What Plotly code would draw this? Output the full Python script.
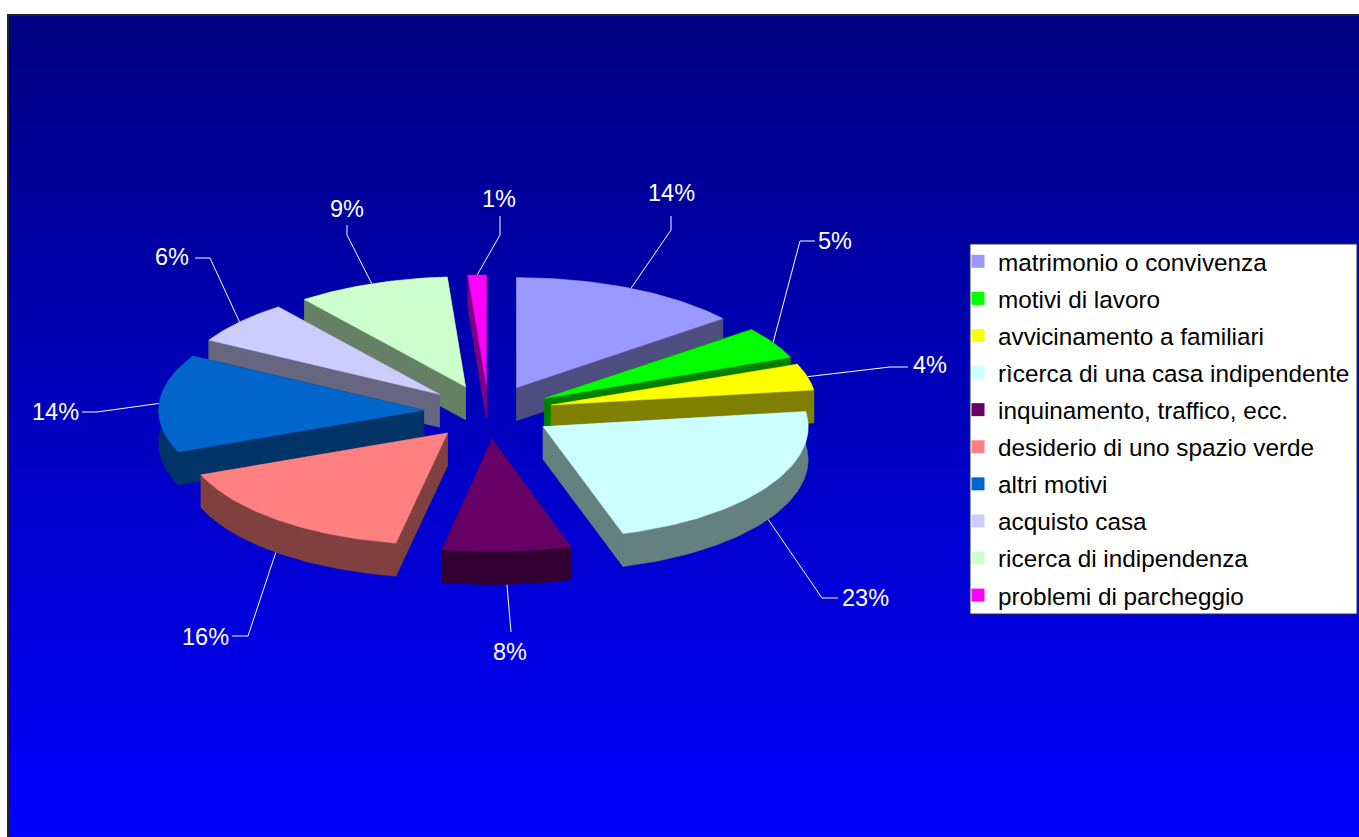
import numpy as np
import plotly.graph_objects as go

categories = ["matrimonio o convivenza", "motivi di lavoro", "avvicinamento a familiari",
              "rìcerca di una casa indipendente", "inquinamento, traffico, ecc.",
              "desiderio di uno spazio verde", "altri motivi", "acquisto casa",
              "ricerca di indipendenza", "problemi di parcheggio"]
values = [14.2, 4.7, 3.9, 22.6, 7.5, 15.9, 14.4, 6.4, 9.3, 1.1]
colors = ["#9999FF", "#00FF00", "#FFFF00", "#CCFFFF", "#660066",
          "#FF8080", "#0066CC", "#CCCCFF", "#CCFFCC", "#FF00FF"]
side_colors = ["#4D4D80", "#008000", "#808000", "#668080", "#330033",
               "#804040", "#003366", "#666680", "#668066", "#800080"]

# pixel-space scene set-up (x/y axes are 1 unit = 1 px)
W, H = 1359, 837
CX, CY, RX, RY = 488.5, 412, 265, 110
EX, EY, DEPTH = 65, 27, 33
PERSP_X, PERSP_Y = 0.025, 0.01
# label centre and elbow of each leader line
label_xy = [(671, 193), (835, 241), (930, 365), (865, 598), (510, 652),
            (205, 637), (55, 412), (172, 257), (347, 209), (499, 199)]
elbow_a = [(671, 230), (800, 241), (890, 367), (822, 598), (511, 628),
           (248, 636), (97, 412), (210, 258), (347, 235), (500, 235)]
elbow_b = [(671, 216), (815, 241), (908, 367), (838, 598), (511, 632),
           (232, 636), (82, 412), (195, 258), (347, 225), (500, 216)]

fig = go.Figure()

# background gradient (x / y are cell boundaries)
ys = np.arange(14, H + 4, 4)
fig.add_trace(go.Heatmap(x=[7, W], y=ys, z=[[v] for v in ys[:-1]], zsmooth=False,
                         colorscale=[[0, "#000080"], [1, "#0000FF"]],
                         showscale=False, hoverinfo="skip", showlegend=False))

total = sum(values)
fracs = np.array(values) / total
starts = np.concatenate([[0], np.cumsum(fracs)[:-1]]) * 2 * np.pi
ends = np.cumsum(fracs) * 2 * np.pi
mids = (starts + ends) / 2


def project(x, y):
    """Slight perspective: the nearest part of the pie appears a little larger."""
    x, y = np.asarray(x, float), np.asarray(y, float)
    d = (np.maximum(0, y - CY) / RY) ** 3
    return CX + (x - CX) * (1 + PERSP_X * d), CY + (y - CY) * (1 + PERSP_Y * d)


def poly(x, y, color):
    fig.add_trace(go.Scatter(x=list(x), y=list(y), mode="lines", fill="toself", fillcolor=color,
                             line=dict(width=0.5, color=color), hoverinfo="skip",
                             showlegend=False))


# leader lines go below the slices
for i in range(len(values)):
    ax = CX + EX * np.sin(mids[i])
    ay = CY - EY * np.cos(mids[i])
    rx, ry = project(ax + RX * np.sin(mids[i]), ay - RY * np.cos(mids[i]))
    if np.cos(mids[i]) < 0:
        ry = ry + DEPTH
    fig.add_trace(go.Scatter(x=[float(rx), elbow_a[i][0], elbow_b[i][0]],
                             y=[float(ry), elbow_a[i][1], elbow_b[i][1]],
                             mode="lines", line=dict(color="white", width=1),
                             hoverinfo="skip", showlegend=False))

# slices, far to near
for i in np.argsort(-np.cos(mids)):
    ax0 = CX + EX * np.sin(mids[i])
    ay0 = CY - EY * np.cos(mids[i])
    t = np.linspace(starts[i], ends[i], 60)
    ex, ey = project(ax0 + RX * np.sin(t), ay0 - RY * np.cos(t))
    ax, ay = project(ax0, ay0)
    ax, ay = float(ax), float(ay)
    for k in (0, -1):
        poly([ax, ex[k], ex[k], ax, ax], [ay, ey[k], ey[k] + DEPTH, ay + DEPTH, ay], side_colors[i])
    poly(list(ex) + list(ex[::-1]) + [ex[0]], list(ey) + list((ey + DEPTH)[::-1]) + [ey[0]], side_colors[i])
    poly([ax] + list(ex) + [ax], [ay] + list(ey) + [ay], colors[i])

# legend entries
for i, name in enumerate(categories):
    fig.add_trace(go.Scatter(x=[None], y=[None], mode="markers", name=name, legendgroup=name,
                             marker=dict(symbol="square", size=13, color=colors[i]),
                             hoverinfo="skip"))

annotations = [dict(x=label_xy[i][0], y=label_xy[i][1], text=f"{values[i]:.0f}%", showarrow=False,
                    xref="x", yref="y", font=dict(color="white", size=23.5,
                                                  family="Liberation Sans"))
               for i in range(len(values))]

shapes = [
    dict(type="line", x0=8, x1=8, y0=14, y1=H, line=dict(color="#222222", width=2), layer="above"),
    dict(type="line", x0=7, x1=W, y0=15, y1=15, line=dict(color="#222222", width=2), layer="above"),
    dict(type="rect", x0=970, x1=1357, y0=244, y1=614, fillcolor="white",
         line=dict(color="#333333", width=1), layer="above"),
]

fig.update_layout(
    width=W, height=H, margin=dict(l=0, r=0, t=0, b=0, pad=0),
    paper_bgcolor="white", plot_bgcolor="white",
    xaxis=dict(range=[0, W], visible=False, fixedrange=True),
    yaxis=dict(range=[H, 0], visible=False, fixedrange=True),
    annotations=annotations, shapes=shapes,
    legend=dict(x=958 / W, y=1 - 239 / H, xanchor="left", yanchor="top",
                bgcolor="rgba(0,0,0,0)", borderwidth=0, traceorder="grouped",
                tracegroupgap=2.5, itemclick=False, itemdoubleclick=False,
                font=dict(size=24.3, color="black", family="Liberation Sans")),
    showlegend=True,
)
fig.write_html("out.html", config=dict(displayModeBar=False),
               post_script="document.body.style.margin='0';document.body.style.overflow='hidden';")
